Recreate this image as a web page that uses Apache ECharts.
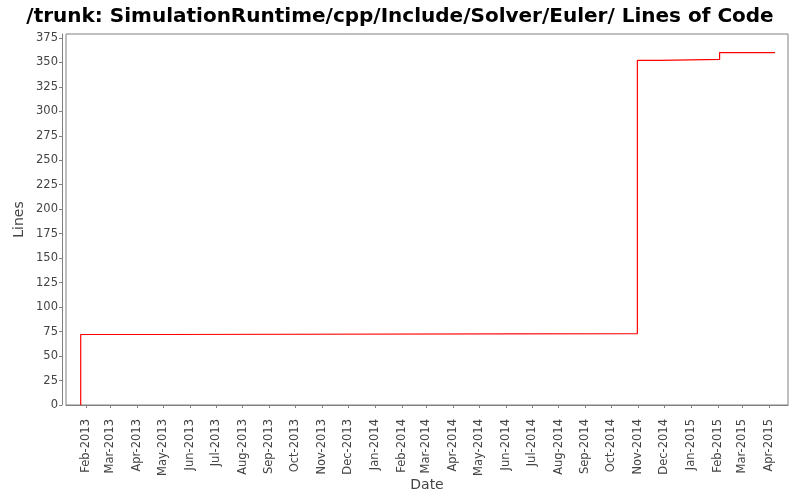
<!DOCTYPE html>
<html>
<head>
<meta charset="utf-8">
<script src="https://cdn.jsdelivr.net/npm/echarts@6/dist/echarts.min.js"></script>
<style>
html,body{margin:0;padding:0;background:#fff;}
#chart{width:800px;height:500px;}
</style>
</head>
<body>
<div id="chart"></div>
<script>
// Data
const dates = ['2013-01-26', '2013-01-26', '2013-05-01', '2014-10-31', '2014-11-26', '2015-02-03', '2015-04-08'];
const lines = [0, 72, 73, 352, 353, 360, 360];
const monthNames = ['Jan','Feb','Mar','Apr','May','Jun','Jul','Aug','Sep','Oct','Nov','Dec'];
const xRange = ['2013-01-09', '2015-04-23'];
const yMax = 379;

const chart = echarts.init(document.getElementById('chart'), null, {renderer: 'canvas'});
const font = 'DejaVu Sans';
chart.setOption({
  animation: false,
  backgroundColor: '#ffffff',
  title: {
    text: '/trunk: SimulationRuntime/cpp/Include/Solver/Euler/ Lines of Code',
    left: 'center',
    top: 2,
    textStyle: {fontFamily: font, fontSize: 20, fontWeight: 'bold', color: '#000'}
  },
  grid: {
    left: 66, right: 12, top: 34, bottom: 95,
    outerBoundsMode: 'none',
    containLabel: false,
    show: true, borderColor: '#808080', borderWidth: 1, backgroundColor: '#fff'
  },
  xAxis: {
    type: 'time',
    min: xRange[0],
    max: xRange[1],
    offset: 4,
    splitNumber: 30,
    minInterval: 28 * 86400000,
    maxInterval: 31 * 86400000,
    name: 'Date',
    nameLocation: 'middle',
    nameGap: 69,
    nameMoveOverlap: false,
    nameTextStyle: {fontFamily: font, fontSize: 14, color: '#444'},
    axisLine: {lineStyle: {color: '#808080', width: 1}},
    axisTick: {show: true, length: 3, lineStyle: {color: '#808080'}},
    minorTick: {show: false},
    splitLine: {show: false},
    axisLabel: {
      rotate: 90,
      fontFamily: font, fontSize: 11.5, color: '#444',
      margin: 10,
      showMinLabel: false, showMaxLabel: false,
      formatter: function (v) {
        const d = new Date(v);
        return monthNames[d.getMonth()] + '-' + d.getFullYear();
      }
    }
  },
  yAxis: {
    type: 'value',
    min: 0, max: yMax, interval: 25,
    offset: 4,
    name: 'Lines',
    nameLocation: 'middle',
    nameGap: 36,
    nameMoveOverlap: false,
    nameTextStyle: {fontFamily: font, fontSize: 14, color: '#444'},
    axisLine: {show: true, lineStyle: {color: '#808080', width: 1}},
    axisTick: {show: true, length: 3, lineStyle: {color: '#808080'}},
    splitLine: {show: false},
    axisLabel: {fontFamily: font, fontSize: 11.5, color: '#444', margin: 4, showMaxLabel: false}
  },
  series: [{
    type: 'line',
    step: 'end',
    showSymbol: false,
    symbol: 'none',
    data: dates.map((d, i) => [d, lines[i]]),
    lineStyle: {color: '#ff0000', width: 1.2},
    itemStyle: {color: '#ff0000'}
  }]
});
</script>
</body>
</html>
